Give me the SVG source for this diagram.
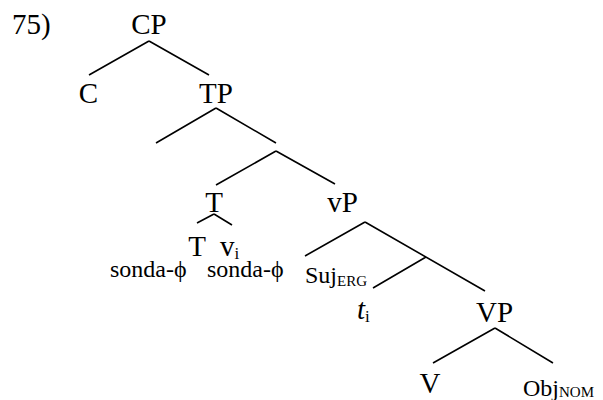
<svg xmlns="http://www.w3.org/2000/svg" width="603" height="400" viewBox="0 0 603 400">
<style>
text{font-family:"Liberation Serif","Times New Roman",serif;fill:#000}
.b{font-size:29px}
.m{font-size:24px}
.s{font-size:17px}
.ss{font-size:15px}
.e{stroke:#000;stroke-width:1.6;fill:none;stroke-linecap:butt}
</style>
<rect width="603" height="400" fill="#fff"/>
<text class="b" x="12" y="34">75)</text>
<g id="connectors">
<path class="e" d="M149,41 L89,75 M149,41 L209,75"/>
<path class="e" d="M216,108 L156,143 M216,108 L276,143"/>
<path class="e" d="M276,151 L216,185 M276,151 L335,184"/>
<path class="e" d="M214,214 L197,223 M214,214 L232,225"/>
<path class="e" d="M365,222 L305,256 M365,222 L485,291 M426,257 L373,288"/>
<path class="e" d="M495,328 L433,363 M495,328 L553,363"/>
</g>
<g id="CP"><text class="b" x="149" y="34" text-anchor="middle">CP</text></g>
<g id="C"><text class="b" x="88.5" y="103" text-anchor="middle">C</text></g>
<g id="TP"><text class="b" x="216" y="103" text-anchor="middle">TP</text></g>
<g id="T"><text class="b" x="214" y="212" text-anchor="middle">T</text></g>
<g id="vP"><text class="b" x="342.5" y="212" text-anchor="middle">vP</text></g>
<g id="T2"><text class="b" x="197" y="256" text-anchor="middle">T</text></g>
<g id="vi"><text class="b" x="220" y="256">v<tspan class="s" dy="2.5">i</tspan></text></g>
<g id="sonda1"><text class="m" x="110" y="277">sonda-ϕ</text></g>
<g id="sonda2"><text class="m" x="207" y="277">sonda-ϕ</text></g>
<g id="Suj"><text class="m" x="305" y="283">Suj<tspan class="ss" dy="2.7">ERG</tspan></text></g>
<g id="ti"><text class="b" x="357" y="319"><tspan font-style="italic">t</tspan><tspan class="s" dy="3">i</tspan></text></g>
<g id="VP"><text class="b" x="494.5" y="321.5" text-anchor="middle">VP</text></g>
<g id="V"><text class="b" x="430" y="392.5" text-anchor="middle">V</text></g>
<g id="Obj"><text class="m" x="523" y="395.5">Obj<tspan class="ss" dy="1.2">NOM</tspan></text></g>
</svg>
